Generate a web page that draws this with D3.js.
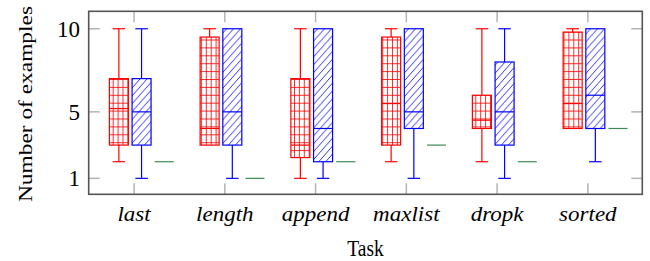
<!DOCTYPE html>
<html>
<head>
<meta charset="utf-8">
<script src="https://cdn.jsdelivr.net/npm/d3@7"></script>
<style>
	body { margin: 0; background: #fff; }
	svg { display: block; }
</style>
</head>
<body>
<script>
// tasks on the x axis
const tasks = [ 'last', 'length', 'append', 'maxlist', 'dropk', 'sorted' ];

// five number summaries per task: [min, q1, median, q3, max]
const redBoxes = [
	[ 2, 3, 5.2, 7, 10 ],
	[ 3, 3, 4, 9.5, 10 ],
	[ 1, 2.25, 3, 7, 10 ],
	[ 2, 3, 5.5, 9.5, 10 ],
	[ 2, 4, 4.5, 6, 10 ],
	[ 4, 4, 5.5, 9.8, 10 ]
];
const blueBoxes = [
	[ 1, 3, 5, 7, 10 ],
	[ 1, 3, 5, 10, 10 ],
	[ 1, 2, 4, 10, 10 ],
	[ 1, 4, 5, 10, 10 ],
	[ 1, 3, 5, 8, 10 ],
	[ 2, 4, 6, 10, 10 ]
];
// third series is a single value per task
const greenValues = [ 2, 1, 2, 3, 2, 4 ];

const yTicks = [ 1, 5, 10 ];

const width = 650;
const height = 261;
const serif = "'Liberation Serif', 'Times New Roman', Times, serif";

const svg = d3.select('body').append('svg').attr('width', width).attr('height', height);

/*
	scales - x works in box slots, 4 slots per task
*/
const x = d3.scaleLinear().domain([ -0.33, 24.07 ]).range([ 88.7, 642.3 ]);
const y = d3.scaleLinear().domain([ 0.04, 11.05 ]).range([ 194.3, 11.3 ]);

const tickPos = (i) => 4 * i + 1.67;
const boxW = 19;
const capW = 12.5;

/*
	fill patterns
*/
const defs = svg.append('defs');
const grid = defs
	.append('pattern')
	.attr('id', 'grid')
	.attr('patternUnits', 'userSpaceOnUse')
	.attr('width', 4.9)
	.attr('height', 7.9);
grid.append('path').attr('d', 'M0,0.4H4.9M0.4,0V7.9').attr('stroke', 'red').attr('stroke-width', 0.9).attr('fill', 'none');

const hatch = defs
	.append('pattern')
	.attr('id', 'hatch')
	.attr('patternUnits', 'userSpaceOnUse')
	.attr('width', 7)
	.attr('height', 7.9);
hatch
	.append('path')
	.attr('d', 'M-1,9.03L8,-1.13M-8,9.03L1,-1.13M6,9.03L15,-1.13')
	.attr('stroke', 'blue')
	.attr('stroke-width', 0.8)
	.attr('fill', 'none');

/*
	ticks (inside, mirrored)
*/
const gTicks = svg.append('g').attr('class', 'ticks').attr('stroke', '#b3b3b3').attr('stroke-width', 1.5);
tasks.forEach((t, i) => {
	const tx = x(tickPos(i));
	gTicks.append('line').attr('x1', tx).attr('x2', tx).attr('y1', y.range()[0]).attr('y2', y.range()[0] - 11);
	gTicks.append('line').attr('x1', tx).attr('x2', tx).attr('y1', y.range()[1]).attr('y2', y.range()[1] + 11);
});
yTicks.forEach((v) => {
	gTicks.append('line').attr('x1', x.range()[0]).attr('x2', x.range()[0] + 11).attr('y1', y(v)).attr('y2', y(v));
	gTicks.append('line').attr('x1', x.range()[1]).attr('x2', x.range()[1] - 11).attr('y1', y(v)).attr('y2', y(v));
});

/*
	boxes
*/
const gBoxes = svg.append('g').attr('class', 'boxes');

const drawBox = (stats, pos, color, fill) => {
	const [ lo, q1, med, q3, hi ] = stats;
	const cx = x(pos);
	const g = gBoxes.append('g').attr('stroke', color).attr('stroke-width', 1.2).attr('fill', 'none');

	// whiskers
	g.append('line').attr('x1', cx).attr('x2', cx).attr('y1', y(hi)).attr('y2', y(q3));
	g.append('line').attr('x1', cx).attr('x2', cx).attr('y1', y(q1)).attr('y2', y(lo));
	if (hi > q3) {
		g.append('line').attr('x1', cx - capW / 2).attr('x2', cx + capW / 2).attr('y1', y(hi)).attr('y2', y(hi));
	}
	if (lo < q1) {
		g.append('line').attr('x1', cx - capW / 2).attr('x2', cx + capW / 2).attr('y1', y(lo)).attr('y2', y(lo));
	}

	// box and median
	g
		.append('rect')
		.attr('x', cx - boxW / 2)
		.attr('y', y(q3))
		.attr('width', boxW)
		.attr('height', y(q1) - y(q3))
		.attr('fill', fill);
	g.append('line').attr('x1', cx - boxW / 2).attr('x2', cx + boxW / 2).attr('y1', y(med)).attr('y2', y(med));
};

tasks.forEach((t, i) => {
	drawBox(redBoxes[i], 4 * i + 1, 'red', 'url(#grid)');
	drawBox(blueBoxes[i], 4 * i + 2, 'blue', 'url(#hatch)');
	const v = greenValues[i];
	drawBox([ v, v, v, v, v ], 4 * i + 3, '#3d8b52', 'none');
});

/*
	frame
*/
svg
	.append('rect')
	.attr('x', x.range()[0])
	.attr('y', y.range()[1])
	.attr('width', x.range()[1] - x.range()[0])
	.attr('height', y.range()[0] - y.range()[1])
	.attr('fill', 'none')
	.attr('stroke', '#555')
	.attr('stroke-width', 1.6);

/*
	labels
*/
const gLabels = svg.append('g').attr('class', 'labels').attr('font-family', serif).attr('fill', '#000');

yTicks.forEach((v) => {
	gLabels
		.append('text')
		.attr('x', 80)
		.attr('y', y(v) + 8)
		.attr('text-anchor', 'end')
		.attr('font-family', serif)
		.attr('font-size', 23)
		.text(v);
});

tasks.forEach((t, i) => {
	gLabels
		.append('text')
		.attr('transform', `translate(${x(tickPos(i))},221) scale(1.15,1)`)
		.attr('text-anchor', 'middle')
		.attr('font-family', serif)
		.attr('font-size', 20)
		.attr('font-style', 'italic')
		.text(t);
});

gLabels
	.append('text')
	.attr('transform', `translate(${(x.range()[0] + x.range()[1]) / 2},256) scale(1,1.2)`)
	.attr('text-anchor', 'middle')
	.attr('font-family', serif)
	.attr('font-size', 19.5)
	.text('Task');

gLabels
	.append('text')
	.attr('transform', 'translate(31.5,104) scale(1,1.2) rotate(-90)')
	.attr('text-anchor', 'middle')
	.attr('font-family', serif)
	.attr('font-size', 19.5)
	.text('Number of examples');
</script>
</body>
</html>
